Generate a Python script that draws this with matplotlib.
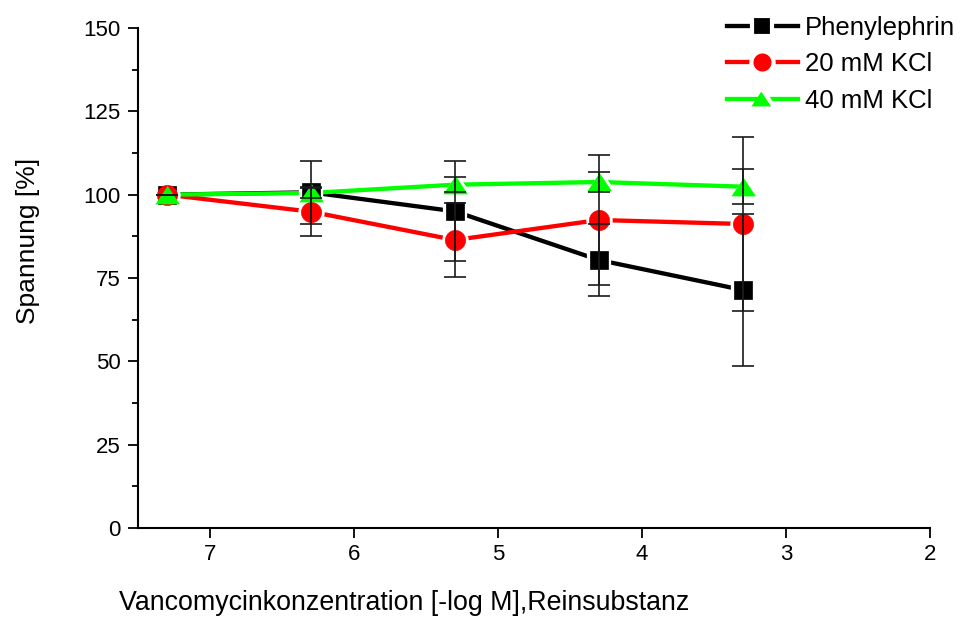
import matplotlib
matplotlib.use("Agg")
import matplotlib.pyplot as plt
from matplotlib.lines import Line2D
from matplotlib.ticker import MultipleLocator

plt.rcParams['font.family'] = ['Liberation Sans', 'DejaVu Sans']

# Konzentration [-log M]
conc = [7.3, 6.3, 5.3, 4.3, 3.3]

# Spannung [%] mit Fehler
phenyl = [100, 100.7, 95, 80.4, 71.4]
phenyl_err = [0, 9.5, 15, 10.8, 22.7]
kcl20 = [100, 94.9, 86.4, 92.4, 91.2]
kcl20_err = [0, 7.3, 11.1, 19.4, 26.1]
kcl40 = [100, 100.5, 103, 103.8, 102.4]
kcl40_err = [0, 1.5, 2.3, 3.0, 5.2]

labels = ["Phenylephrin", "20 mM KCl", "40 mM KCl"]
colors = ["black", "red", "#00ff00"]

# flaches Dreieck wie im Origin-Stil
tri = [(-1, -0.72), (1, -0.72), (0, 0.78)]
markers = ["s", "o", tri]
msizes = [13, 14.5, 17]

series = [(phenyl, phenyl_err), (kcl20, kcl20_err), (kcl40, kcl40_err)]

fig = plt.figure(figsize=(9.63, 6.19), dpi=100)
ax = fig.add_axes([138 / 963, 1 - 528 / 619, (930 - 138) / 963, 500 / 619])

for (y, err), c, m, ms in zip(series, colors, markers, msizes):
    ax.plot(conc, y, color=c, lw=3.1, zorder=2, solid_capstyle='butt')
    # weisser Rand -> Luecke zwischen Linie und Symbol
    ax.plot(conc, y, ls='none', marker=m, ms=ms, mfc='white', mec='white',
            mew=4.5, zorder=3)
for (y, err), c, m, ms in zip(series, colors, markers, msizes):
    ax.plot(conc, y, ls='none', marker=m, ms=ms, mfc=c, mec=c, mew=0.5,
            zorder=4)
for (y, err) in series:
    ax.errorbar(conc, y, yerr=err, fmt='none', ecolor='#1a1a1a',
                elinewidth=1.2, capsize=8, capthick=1.2, zorder=5)

ax.set_xlim(7.5, 2)
ax.set_ylim(0, 150)
ax.xaxis.set_major_locator(MultipleLocator(1))
ax.yaxis.set_major_locator(MultipleLocator(25))
ax.yaxis.set_minor_locator(MultipleLocator(12.5))

for s in ['top', 'right']:
    ax.spines[s].set_visible(False)
for s in ['left', 'bottom']:
    ax.spines[s].set_linewidth(1.5)

ax.tick_params(axis='both', which='major', direction='out', length=7.5,
               width=1.3, labelsize=16)
ax.tick_params(axis='y', which='major', pad=5)
ax.tick_params(axis='x', which='major', pad=4)
ax.tick_params(axis='y', which='minor', direction='out', length=4, width=1.3)

fig.text(404 / 963, 1 - 603 / 619, "Vancomycinkonzentration [-log M],Reinsubstanz",
         ha='center', va='center', fontsize=19.3)
fig.text(28 / 963, 1 - 241 / 619, "Spannung [%]", rotation=90,
         ha='center', va='center', fontsize=19)

leg_ms = [15, 16, 18]
handles = [Line2D([], [], color=c, lw=3.1, marker=m, ms=ms, mfc=c, mec='white',
                  mew=3) for c, m, ms in zip(colors, markers, leg_ms)]
fig.legend(handles, labels, loc='upper left', bbox_to_anchor=(727 / 963, 0.974),
           frameon=False, fontsize=18.5, handlelength=2.75, handletextpad=0.3,
           labelspacing=0.48, borderpad=0, borderaxespad=0)

fig.savefig("out.png", dpi=100)
